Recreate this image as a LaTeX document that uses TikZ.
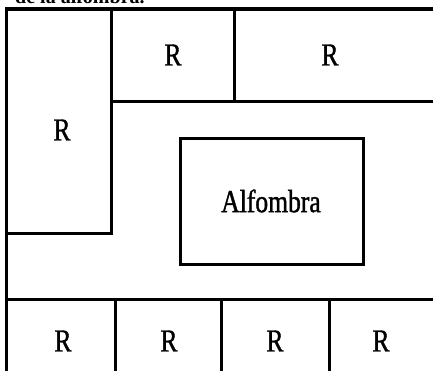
\documentclass[tikz,border=0pt]{standalone}
\usepackage{fontspec}
\setmainfont{Liberation Serif}
\newfontfamily\planofont[FakeStretch=0.8,FakeBold=1.2]{Liberation Serif}
\newfontfamily\titulofont{Liberation Serif Bold}
\tikzset{
  pared/.style={black,line width=3pt},
  rotulo/.style={inner sep=0,font=\planofont\fontsize{32}{34}\selectfont}
}

\begin{document}
\begin{tikzpicture}[x=1pt,y=1pt]
  % --- Dimensions (en px de la figure) ---
  \def\W{433}
  \def\H{370}
  \def\ytop{-9}        % haut du cadre
  \def\yfila{-299}     % haut de la rangée du bas
  \useasboundingbox (0,0) rectangle (\W,-\H);

  % --- Titre coupé en haut ---
  \node[anchor=base west,inner sep=0,font=\titulofont\fontsize{20}{24}\selectfont]
    (titulo) at (15,-3.5) {de la alfombra.};

  % --- Cadre extérieur (sort à droite et en bas) ---
  \draw[pared] (6,\ytop) rectangle (\W+8,-\H-8);
  \draw[black,line width=4pt] (5,\ytop) -- (\W+8,\ytop);

  % --- Bloc gauche et rangée du haut ---
  \draw[pared] (6,\ytop) rectangle (111,-233);
  \draw[pared] (111,\ytop) rectangle (234,-101);
  \draw[pared] (234,\ytop) rectangle (\W+8,-101);

  % --- Alfombra ---
  \draw[pared] (180,-138) rectangle (363,-264);

  % --- Rangée du bas ---
  \draw[pared] (6,\yfila) -- (\W+8,\yfila);
  \foreach \xx in {115,221,329}{%
    \draw[pared] (\xx,\yfila) -- (\xx,-\H-8);
  }

  % --- Textes ---
  \node[rotulo] (rIzq) at (62,-130) {R};
  \node[rotulo] (rSup1) at (173,-55) {R};
  \node[rotulo] (rSup2) at (330,-55) {R};
  \node[rotulo] (alfombra) at (271,-201) {Alfombra};
  \foreach \nn/\xx in {1/63,2/169,3/275,4/381}{%
    \node[rotulo] (rInf\nn) at (\xx,-341) {R};
  }
\end{tikzpicture}
\end{document}
